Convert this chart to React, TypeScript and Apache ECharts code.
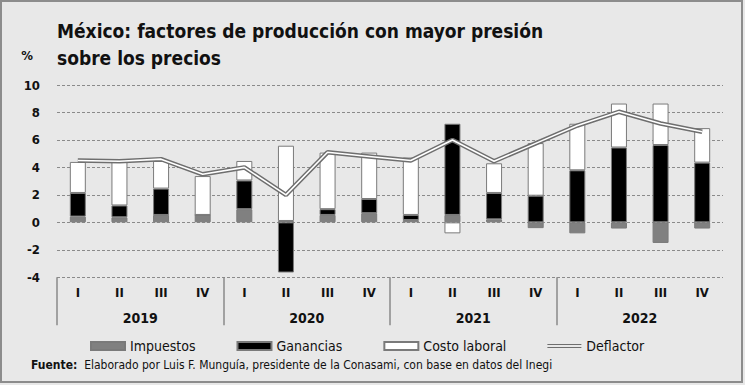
import React, { useEffect, useRef } from "react";
import * as echarts from "echarts";

const quarters = ["I", "II", "III", "IV", "I", "II", "III", "IV", "I", "II", "III", "IV", "I", "II", "III", "IV"];
const years = ["2019", "2020", "2021", "2022"];
const impuestos = [0.42, 0.37, 0.54, 0.54, 0.96, 0.1, 0.54, 0.67, 0.17, 0.54, 0.22, -0.42, -0.8, -0.45, -1.5, -0.45];
const ganancias = [1.72, 0.86, 1.92, 0, 2.09, -3.65, 0.42, 1.03, 0.37, 6.64, 1.92, 1.94, 3.79, 5.45, 5.63, 4.35];
const costoLaboral = [2.26, 3.17, 2.01, 2.83, 1.42, 5.48, 4.12, 3.38, 4.18, -0.8, 2.16, 3.83, 3.39, 3.2, 3.02, 2.51];
const deflactor = [4.5, 4.45, 4.6, 3.5, 4.0, 2.0, 5.1, 4.8, 4.5, 6.0, 4.45, 5.75, 7.05, 8.05, 7.2, 6.6];
const yTicks = { min: -4, max: 10, interval: 2 };

const FONT = "'DejaVu Sans Condensed', 'DejaVu Sans', sans-serif";

export default function App() {
  const ref = useRef<HTMLDivElement>(null);
  useEffect(() => {
    const chart = echarts.init(ref.current!, null, { renderer: "svg" });
    const barStyle = (color: string) => ({ color, borderColor: "#7a7a7a", borderWidth: 1 });
    chart.setOption({
      animation: false,
      backgroundColor: "#e8e8e8",
      textStyle: { fontFamily: FONT },
      title: {
        text: "México: factores de producción con mayor presión\nsobre los precios",
        left: 57,
        top: 17,
        padding: 0,
        textStyle: { fontFamily: FONT, fontSize: 19, fontWeight: "bold", color: "#111", lineHeight: 27 },
      },
      legend: {
        top: 338,
        left: 90,
        padding: 0,
        itemWidth: 34,
        itemHeight: 8,
        itemGap: 41,
        textStyle: { fontFamily: FONT, fontSize: 14, color: "#111", lineHeight: 16 },
        data: [
          { name: "Impuestos", icon: "rect" },
          { name: "Ganancias", icon: "rect" },
          { name: "Costo laboral", icon: "rect" },
          { name: "Deflactor", icon: "path://M0 0H40V1.1H0Z M0 3.4H40V4.5H0Z" },
        ],
      },
      grid: [
        { left: 57, right: 22, top: 85, bottom: 107.7 },
        { left: 57, right: 22, top: 277.3, height: 48 },
      ],
      xAxis: [
        {
          type: "category",
          gridIndex: 0,
          data: quarters,
          axisLine: { show: false },
          axisTick: { show: false },
          axisLabel: { fontFamily: FONT, fontSize: 13, fontWeight: "bold", color: "#111", margin: 9, interval: 0 },
        },
        {
          type: "category",
          gridIndex: 1,
          data: years,
          axisLine: { show: false },
          axisTick: { show: false },
          splitLine: { show: true, showMaxLine: false, lineStyle: { color: "#8a8a8a", width: 1.5, type: "solid" } },
          axisLabel: { inside: true, margin: 0, fontFamily: FONT, fontSize: 14, fontWeight: "bold", color: "#111" },
        },
      ],
      yAxis: [
        {
          type: "value",
          gridIndex: 0,
          min: yTicks.min,
          max: yTicks.max,
          interval: yTicks.interval,
          axisLine: { show: false },
          axisTick: { show: false },
          splitLine: { lineStyle: { color: "#8a8a8a", width: 1, type: [3, 2] } },
          axisLabel: { fontFamily: FONT, fontSize: 13, fontWeight: "bold", color: "#111", margin: 17 },
        },
        { type: "value", gridIndex: 1, show: false },
      ],
      series: [
        { name: "Impuestos", type: "bar", stack: "t", barWidth: 16, data: impuestos, itemStyle: barStyle("#808080") },
        { name: "Ganancias", type: "bar", stack: "t", barWidth: 16, data: ganancias, itemStyle: barStyle("#000000") },
        { name: "Costo laboral", type: "bar", stack: "t", barWidth: 16, data: costoLaboral, itemStyle: barStyle("#ffffff") },
        {
          name: "Deflactor",
          type: "line",
          data: deflactor,
          symbol: "none",
          z: 5,
          itemStyle: { color: "#6e6e6e" },
          lineStyle: { color: "#6e6e6e", width: 4.5 },
        },
        {
          name: "DeflactorInner",
          type: "line",
          data: deflactor,
          symbol: "none",
          z: 6,
          silent: true,
          itemStyle: { color: "#ffffff" },
          lineStyle: { color: "#ffffff", width: 1.6 },
        },
      ],
      graphic: [
        {
          type: "rect",
          shape: { x: 1, y: 1, width: 741, height: 381 },
          style: { fill: "none", stroke: "#8c8c8c", lineWidth: 2 },
          silent: true,
        },
        {
          type: "text",
          x: 27,
          y: 55,
          style: { text: "%", fontFamily: FONT, fontSize: 13, fontWeight: "bold", fill: "#111", align: "center", verticalAlign: "middle" },
        },
        {
          type: "text",
          x: 31,
          y: 365,
          style: {
            text: "{b|Fuente:}  Elaborado por Luis F. Munguía, presidente de la Conasami, con base en datos del Inegi",
            fontFamily: FONT,
            fontSize: 12,
            fill: "#111",
            verticalAlign: "middle",
            rich: { b: { fontWeight: "bold", fontFamily: FONT, fontSize: 12, fill: "#111" } },
          },
        },
      ],
    });
    return () => chart.dispose();
  }, []);
  return <div ref={ref} style={{ position: "fixed", left: 0, top: 0, width: 745, height: 385 }} />;
}
